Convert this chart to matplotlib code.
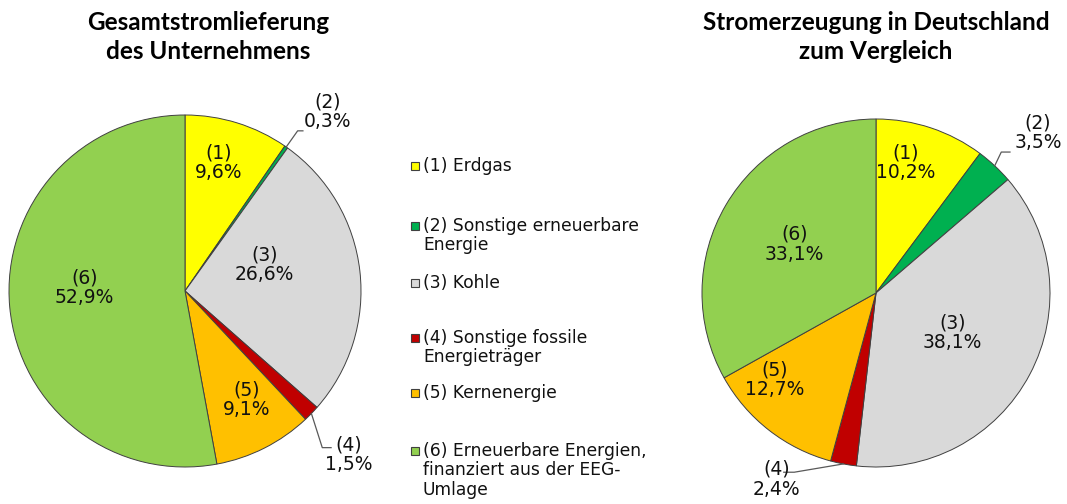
import numpy as np
import matplotlib.pyplot as plt
from matplotlib.patches import Rectangle

# Daten
labels = ["(1) Erdgas", "(2) Sonstige erneuerbare\nEnergie", "(3) Kohle",
          "(4) Sonstige fossile\nEnergieträger", "(5) Kernenergie",
          "(6) Erneuerbare Energien,\nfinanziert aus der EEG-\nUmlage"]
nummern = ["(1)", "(2)", "(3)", "(4)", "(5)", "(6)"]
unternehmen = [9.6, 0.3, 26.6, 1.5, 9.1, 52.9]
deutschland = [10.2, 3.5, 38.1, 2.4, 12.7, 33.1]
farben = ["#FFFF00", "#00B050", "#D9D9D9", "#C00000", "#FFC000", "#92D050"]

titel_links = "Gesamtstromlieferung\ndes Unternehmens"
titel_rechts = "Stromerzeugung in Deutschland\nzum Vergleich"

W, H = 1067, 504
fig = plt.figure(figsize=(W / 100, H / 100), dpi=100)


def pie_axes(cx, cy, r):
    return fig.add_axes([(cx - r) / W, (H - cy - r) / H, 2 * r / W, 2 * r / H])


def fmt(v):
    return ("%.1f%%" % v).replace(".", ",")


def draw_pie(ax, werte, pos, leader):
    ax.pie(werte, colors=farben, startangle=90, counterclock=False, radius=1,
           wedgeprops=dict(edgecolor="#404040", linewidth=0.7))
    ax.set_xlim(-1, 1)
    ax.set_ylim(-1, 1)
    ax.set_aspect("auto")
    ax.axis("off")
    cum = np.cumsum([0] + werte)
    for i, v in enumerate(werte):
        x, y = pos[i]
        ax.text(x, y, nummern[i] + "\n" + fmt(v), ha="center", va="center",
                fontsize=13.5, family="DejaVu Sans", linespacing=1.05,
                color="#111111", clip_on=False)
        if i in leader:
            mid = np.radians(90 - (cum[i] + v / 2) * 3.6)
            p0 = (np.cos(mid), np.sin(mid))
            (x1, y1), (x2, y2) = leader[i]
            ax.plot([p0[0], x1, x2], [p0[1], y1, y2], color="#595959",
                    lw=0.9, clip_on=False)


# linker Kreis
ax1 = pie_axes(185, 291, 176)
pos1 = [(0.19, 0.73), (0.81, 1.02), (0.45, 0.15), (0.93, -0.93),
        (0.35, -0.62), (-0.57, 0.02)]
lead1 = {1: ((0.64, 0.91), (0.67, 0.91)), 3: ((0.78, -0.89), (0.83, -0.89))}
draw_pie(ax1, unternehmen, pos1, lead1)

# rechter Kreis
ax2 = pie_axes(876, 293, 174)
pos2 = [(0.17, 0.75), (0.93, 0.92), (0.44, -0.23), (-0.57, -1.07),
        (-0.58, -0.50), (-0.47, 0.28)]
lead2 = {1: ((0.72, 0.81), (0.77, 0.81)), 3: ((-0.47, -1.03), (-0.53, -1.03))}
draw_pie(ax2, deutschland, pos2, lead2)

# Titel
fig.text(208 / W, 1 - 37 / H, titel_links, ha="center", va="center",
         fontsize=17.5, fontweight="bold", family="Lato", linespacing=1.32)
fig.text(876 / W, 1 - 37 / H, titel_rechts, ha="center", va="center",
         fontsize=17.5, fontweight="bold", family="Lato", linespacing=1.32)

# Legende
leg_y = [166, 226, 283, 338, 393, 451]
for lab, c, y in zip(labels, farben, leg_y):
    fig.patches.append(Rectangle((411 / W, 1 - (y + 4) / H), 8 / W, 8 / H,
                                 facecolor=c, edgecolor="#404040", lw=0.8,
                                 transform=fig.transFigure))
    fig.text(423 / W, 1 - (y - 9) / H, lab, ha="left", va="top",
             fontsize=12.3, family="DejaVu Sans", linespacing=1.1,
             color="#111111")

fig.savefig("out.png", dpi=100)
